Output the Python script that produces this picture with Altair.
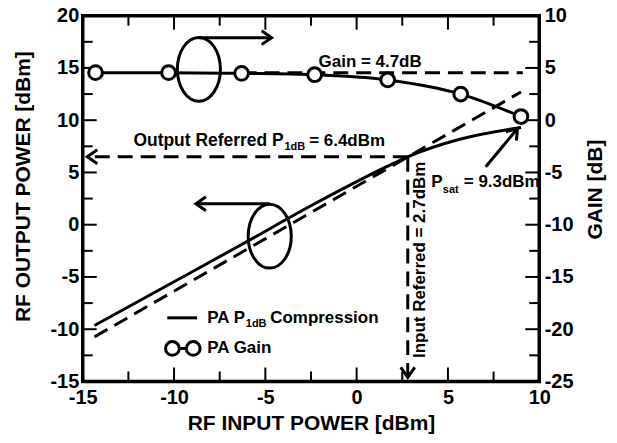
import altair as alt
import pandas as pd

# ---------------- data ----------------
# PA gain (right axis, dB) sampled at these input powers (dBm)
gain_pin = [-14.3, -10.3, -6.3, -2.3, 1.7, 5.7, 9.0]
gain_db = [4.55, 4.55, 4.48, 4.35, 3.85, 2.5, 0.35]

# PA output power (left axis, dBm)
pout_pin = [-14.36, -10.3, -6.3, -2.3, 1.7, 2.8, 5.7, 9.0]
pout_dbm = [-9.65, -5.75, -1.9, 2.0, 5.6, 6.5, 8.2, 9.3]

# linear (ideal) extrapolation, dashed
lin_pin = [-14.36, 9.0]
lin_pout = [-10.73, 12.7]

# reference values
gain_ref = 4.55
gain_ref_pin = [-6.3, 9.1]
p1db_in = 2.8
p1db_out = 6.5

x_major = [-10, -5, 0, 5]
x_minor = [-12.5, -7.5, -2.5, 2.5, 7.5]
y_major = [-10, -5, 0, 5, 10, 15]
y_minor = [-12.5, -7.5, -2.5, 2.5, 7.5, 12.5, 17.5]
x_labels = [-15, -10, -5, 0, 5, 10]
yl_labels = [-15, -10, -5, 0, 5, 10, 15, 20]
yr_labels = [-25, -20, -15, -10, -5, 0, 5, 10]

W, H = 458, 367
FONT = "Liberation Sans"
DASH = [15, 8]
LBL = "'' + datum.value"

xs = alt.Scale(domain=[-15, 10], nice=False, zero=False)
yls = alt.Scale(domain=[-15, 20], nice=False, zero=False)
yrs = alt.Scale(domain=[-25, 10], nice=False, zero=False)

def X(field="x"):
    return alt.X(f"{field}:Q", scale=xs)

def YL(field="y"):
    return alt.Y(f"{field}:Q", scale=yls)

def YR(field="g"):
    return alt.Y(f"{field}:Q", scale=yrs)

# ---------------- left-axis group ----------------
out_df = pd.DataFrame({"x": pout_pin, "y": pout_dbm})
x_axis = alt.Axis(values=x_labels, ticks=False, domain=False, grid=False,
                  labelPadding=6, labelFlush=False, labelFontSize=20,
                  labelExpr=LBL,
                  labelFont=FONT, labelFontWeight="bold", labelColor="black",
                  title="RF INPUT POWER [dBm]", titleFontSize=21, titleFont=FONT,
                  titleFontWeight="bold", titleColor="black", titleY=42,
                  titleBaseline="middle")
yl_axis = alt.Axis(values=yl_labels, ticks=False, domain=False, grid=False,
                   labelPadding=4, labelFontSize=20, labelFont=FONT,
                   labelExpr=LBL,
                   labelFontWeight="bold", labelColor="black",
                   title="RF OUTPUT POWER [dBm]", titleFontSize=21, titleFont=FONT,
                   titleFontWeight="bold", titleColor="black", titleAngle=270,
                   titleX=-59, titleY=171, titleAlign="center",
                   titleBaseline="middle")
out_line = alt.Chart(out_df).mark_line(color="black", strokeWidth=3,
                                       interpolate="monotone").encode(
    x=alt.X("x:Q", scale=xs, axis=x_axis),
    y=alt.Y("y:Q", scale=yls, axis=yl_axis),
)

dash_df = pd.DataFrame({
    "x": lin_pin + [p1db_in, -14.75] + [p1db_in, p1db_in],
    "y": lin_pout + [p1db_out, p1db_out] + [p1db_out, -14.6],
    "seg": ["lin", "lin", "h", "h", "v", "v"],
    "ord": [0, 1, 0, 1, 0, 1],
})
dash_lines = alt.Chart(dash_df).mark_line(color="black", strokeWidth=3,
                                          strokeDash=DASH).encode(
    x=X(), y=YL(), detail="seg:N", order="ord:Q")

seg_df = pd.DataFrame({
    "x": [-8.64, -4.66, -4.76, -8.80, 7.07, 8.81, -10.37, -8.74, -10.09, -8.95],
    "y": [17.9, 17.9, 2.0, 2.0, 5.54, 9.2, -8.91, -8.91, -11.84, -11.84],
    "seg": ["a1", "a1", "a2", "a2", "a3", "a3", "lg1", "lg1", "lg2", "lg2"],
    "ord": [0, 1, 0, 1, 0, 1, 0, 1, 0, 1],
})
seg_lines = alt.Chart(seg_df).mark_line(color="black", strokeWidth=3).encode(
    x=X(), y=YL(), detail="seg:N", order="ord:Q")

CHEVRON = "M -1 -0.7 L 0 0 L -1 0.7"
head_df = pd.DataFrame({
    "x": [-4.66, -8.80, 8.81, -14.75, p1db_in],
    "y": [17.9, 2.0, 9.2, p1db_out, -14.6],
    "ang": [0, 180, 310, 180, 90],
})
heads = alt.Chart(head_df).mark_point(shape=CHEVRON, filled=False, size=400,
                                      stroke="black", strokeWidth=3,
                                      opacity=1).encode(
    x=X(), y=YL(), angle=alt.Angle("ang:Q", scale=None))

ELLIPSE = ("M 0 -1 C 0.373 -1 0.675 -0.552 0.675 0 C 0.675 0.552 0.373 1 0 1 "
           "C -0.373 1 -0.675 0.552 -0.675 0 C -0.675 -0.552 -0.373 -1 0 -1 Z")
ell_df = pd.DataFrame({"x": [-8.64, -4.76], "y": [14.87, -1.1]})
ellipses = alt.Chart(ell_df).mark_point(shape=ELLIPSE, filled=False, size=4096,
                                        stroke="black", strokeWidth=3,
                                        opacity=1).encode(x=X(), y=YL())

leg_pts_df = pd.DataFrame({"x": [-10.09, -8.95], "y": [-11.84, -11.84]})
leg_pts = alt.Chart(leg_pts_df).mark_point(shape="circle", size=190, filled=True,
                                           fill="white", stroke="black",
                                           strokeWidth=3, opacity=1).encode(
    x=X(), y=YL())

txt_left = pd.DataFrame({
    "x": [-3.95, -2.6, 4.08, 4.72, 5.87, -8.18, -6.07, -4.73, -8.18],
    "y": [7.46, 8.04, 4.11, 3.32, 4.11, -8.91, -9.47, -8.91, -11.84],
    "t": ["1dB", "= 6.4dBm", "P", "sat", "= 9.3dBm", "PA P", "1dB",
          "Compression", "PA Gain"],
    "s": [11, 17, 17, 11, 17, 17, 11, 17, 17],
})
texts_l = alt.Chart(txt_left).mark_text(align="left", baseline="middle",
                                        font=FONT, fontWeight="bold",
                                        color="black").encode(
    x=X(), y=YL(), text="t:N", size=alt.Size("s:Q", scale=None))

txt_right = pd.DataFrame({"x": [-4.0], "y": [8.04], "t": ["Output Referred P"]})
texts_r = alt.Chart(txt_right).mark_text(align="right", baseline="middle",
                                         font=FONT, fontWeight="bold",
                                         fontSize=17.5, color="black").encode(
    x=X(), y=YL(), text="t:N")

txt_c = pd.DataFrame({"x": [0.74], "y": [15.55], "t": ["Gain = 4.7dB"]})
texts_c = alt.Chart(txt_c).mark_text(align="center", baseline="middle",
                                     font=FONT, fontWeight="bold",
                                     fontSize=17, color="black").encode(
    x=X(), y=YL(), text="t:N")

txt_v = pd.DataFrame({"x": [3.47], "y": [-3.36], "t": ["Input Referred = 2.7dBm"]})
texts_v = alt.Chart(txt_v).mark_text(align="center", baseline="middle",
                                     font=FONT, fontWeight="bold", angle=270,
                                     fontSize=17, color="black").encode(
    x=X(), y=YL(), text="t:N")

# inward ticks on all four sides
def xticks(vals, length):
    df = pd.DataFrame({"x": vals})
    bot = alt.Chart(df).mark_rule(color="black", strokeWidth=2).encode(
        x=X(), y=alt.value(H), y2=alt.value(H - length))
    top = alt.Chart(df).mark_rule(color="black", strokeWidth=2).encode(
        x=X(), y=alt.value(0), y2=alt.value(length))
    return [bot, top]

def yticks(vals, length):
    df = pd.DataFrame({"y": vals})
    lft = alt.Chart(df).mark_rule(color="black", strokeWidth=2).encode(
        y=YL(), x=alt.value(0), x2=alt.value(length))
    rgt = alt.Chart(df).mark_rule(color="black", strokeWidth=2).encode(
        y=YL(), x=alt.value(W), x2=alt.value(W - length))
    return [lft, rgt]

tick_layers = xticks(x_major, 14) + xticks(x_minor, 10) + yticks(y_major, 14) + yticks(y_minor, 10)

left = alt.layer(out_line, dash_lines, seg_lines, heads, ellipses, leg_pts,
                 texts_l, texts_r, texts_c, texts_v, *tick_layers)

# ---------------- right-axis group (gain) ----------------
gain_df = pd.DataFrame({"x": gain_pin, "g": gain_db})
yr_axis = alt.Axis(values=yr_labels, orient="right", ticks=False, domain=False,
                   grid=False, labelPadding=5, labelFontSize=20, labelFont=FONT,
                   labelExpr=LBL,
                   labelFontWeight="bold", labelColor="black",
                   title="GAIN [dB]", titleFontSize=21, titleFont=FONT,
                   titleFontWeight="bold", titleColor="black", titleAngle=270,
                   titleX=56, titleY=174, titleAlign="center",
                   titleBaseline="middle")
gref_df = pd.DataFrame({"x": gain_ref_pin, "g": [gain_ref, gain_ref]})
gain_ref_line = alt.Chart(gref_df).mark_line(color="black", strokeWidth=3,
                                             strokeDash=DASH).encode(
    x=X(), y=YR())
gain_line = alt.Chart(gain_df).mark_line(color="black", strokeWidth=3,
                                         interpolate="monotone").encode(
    x=X(), y=alt.Y("g:Q", scale=yrs, axis=yr_axis))
gain_pts = alt.Chart(gain_df).mark_point(shape="circle", size=190, filled=True,
                                         fill="white", stroke="black",
                                         strokeWidth=3, opacity=1).encode(
    x=X(), y=YR())
right = alt.layer(gain_line, gain_ref_line, gain_pts)

chart = alt.layer(left, right).resolve_scale(y="independent").properties(
    width=W, height=H,
    autosize=alt.AutoSizeParams(type="none"),
    padding={"left": 75, "top": 7, "right": 70, "bottom": 53},
).configure_view(stroke="black", strokeWidth=3.5)

chart.save("out.html", embed_options={"renderer": "svg", "actions": False})
